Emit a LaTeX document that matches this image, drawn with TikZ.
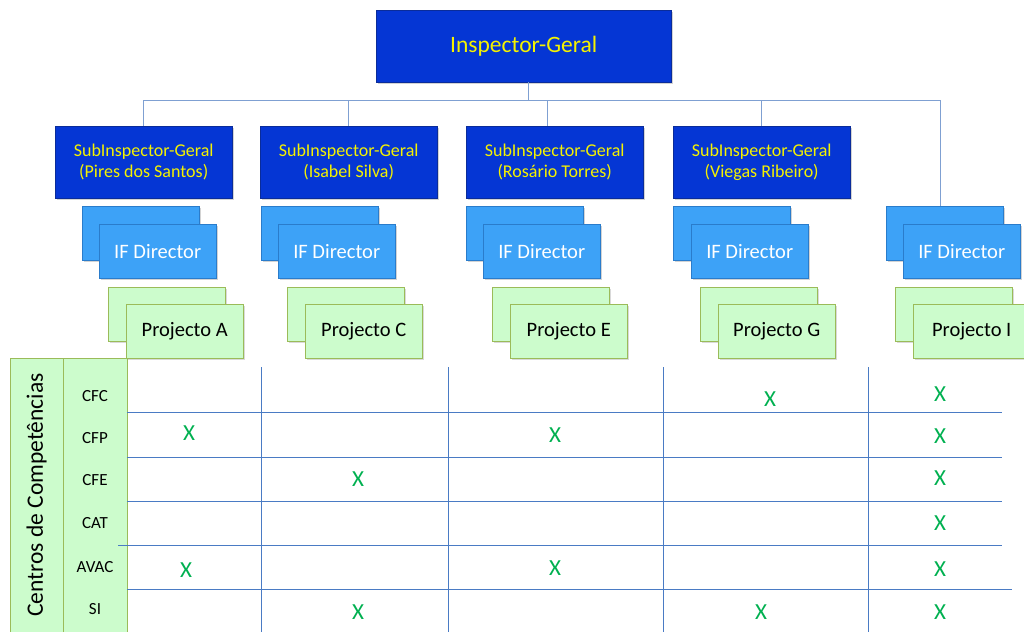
\documentclass[tikz,border=0pt]{standalone}
\usepackage{fontspec}
\setmainfont{Carlito}
\usetikzlibrary{positioning,shadows}

\definecolor{igblue}{HTML}{0536D4}
\definecolor{igborder}{HTML}{0A2C9A}
\definecolor{igyellow}{HTML}{F5F200}
\definecolor{ifblue}{HTML}{3DA2F7}
\definecolor{ifborder}{HTML}{2A7CCB}
\definecolor{pjgreen}{HTML}{CCFCCC}
\definecolor{pjborder}{HTML}{9BBB59}
\definecolor{busline}{HTML}{7FA0D2}
\definecolor{gridline}{HTML}{4A7BC4}
\definecolor{xgreen}{HTML}{00B050}

\tikzset{
  chief/.style={rectangle, draw=igborder, fill=igblue, text=igyellow, inner sep=0pt, align=center,
    drop shadow={shadow xshift=1.5pt, shadow yshift=-1.5pt, opacity=0.35}},
  director/.style={rectangle, draw=ifborder, fill=ifblue, text=white, inner sep=0pt,
    minimum width=117pt, minimum height=54pt, anchor=north west, font=\fontsize{20.5}{24}\selectfont,
    drop shadow={shadow xshift=1.5pt, shadow yshift=-1.5pt, opacity=0.35}},
  project/.style={rectangle, draw=pjborder, fill=pjgreen, inner sep=0pt,
    minimum width=117pt, minimum height=54pt, anchor=north west, font=\fontsize{20.5}{24}\selectfont,
    drop shadow={shadow xshift=1.5pt, shadow yshift=-1.5pt, opacity=0.3}},
  headbox/.style={rectangle, draw=pjborder, line width=0.8pt, fill=pjgreen, anchor=north west},
  orgline/.style={draw=busline, line width=1.2pt},
  gridrule/.style={draw=gridline, line width=1pt},
  rowlabel/.style={font=\fontsize{17}{20}\selectfont},
  tick/.style={text=xgreen, inner sep=0pt, font=\fontsize{23}{26}\selectfont},
}

\begin{document}
\begin{tikzpicture}[x=1pt,y=-1pt]
\useasboundingbox (0,0) rectangle (1024,631);

\node (ig) [chief, minimum width=295pt, minimum height=72pt, anchor=north west, font=\fontsize{23.5}{27}\selectfont] at (376,10) {Inspector-Geral};

\node (sub1) [chief, minimum width=177pt, minimum height=72pt, anchor=north west, font=\fontsize{18}{21}\selectfont] at (55,126) {SubInspector-Geral\\(Pires dos Santos)};
\node (sub2) [chief, minimum width=177pt, minimum height=72pt, anchor=north west, font=\fontsize{18}{21}\selectfont] at (260,126) {SubInspector-Geral\\(Isabel Silva)};
\node (sub3) [chief, minimum width=177pt, minimum height=72pt, anchor=north west, font=\fontsize{18}{21}\selectfont] at (466,126) {SubInspector-Geral\\(Rosário Torres)};
\node (sub4) [chief, minimum width=177pt, minimum height=72pt, anchor=north west, font=\fontsize{18}{21}\selectfont] at (673,126) {SubInspector-Geral\\(Viegas Ribeiro)};

% directors, two stacked boxes each
\node (dirb1) [director] at (82,206) {};
\node (dir1) [director] at (99,224) {IF Director};
\node (dirb2) [director] at (261,206) {};
\node (dir2) [director] at (278,224) {IF Director};
\node (dirb3) [director] at (466,206) {};
\node (dir3) [director] at (483,224) {IF Director};
\node (dirb4) [director] at (673,206) {};
\node (dir4) [director] at (691,224) {IF Director};
\node (dirb5) [director] at (886,206) {};
\node (dir5) [director] at (903,224) {IF Director};

% projects
\node (projb1) [project] at (108,287) {};
\node (proj1) [project] at (126,304) {Projecto A};
\node (projb2) [project] at (287,287) {};
\node (proj2) [project] at (305,304) {Projecto C};
\node (projb3) [project] at (492,287) {};
\node (proj3) [project] at (510,304) {Projecto E};
\node (projb4) [project] at (700,287) {};
\node (proj4) [project] at (718,304) {Projecto G};
\node (projb5) [project] at (895,287) {};
\node (proj5) [project] at (913,304) {Projecto I};

% org chart lines
\draw[orgline] ([xshift=5pt]ig.south) -- ++(0,18) coordinate (bus);
\draw[orgline] (sub1.north |- bus) -- ([xshift=-4pt]dirb5.north |- bus) -- ([xshift=-4pt]dirb5.north);
\draw[orgline] (sub1.north |- bus) -- (sub1.north);
\draw[orgline] (sub2.north |- bus) -- (sub2.north);
\draw[orgline] ([xshift=-7pt]sub3.north |- bus) -- ([xshift=-7pt]sub3.north);
\draw[orgline] (sub4.north |- bus) -- (sub4.north);

% competence table
\node (ccbox) [headbox, minimum width=53pt, minimum height=290pt] at (10,358) {};
\node (cclabel) [rotate=90, font=\fontsize{23.5}{26}\selectfont] at (36.5,495) {Centros de Competências};
\node (rowbox) [headbox, minimum width=64pt, minimum height=290pt] at (63,358) {};

\node (cfc) [rowlabel] at (95,396) {CFC};
\node (cfp) [rowlabel] at (95,438) {CFP};
\node (cfe) [rowlabel] at (95,480) {CFE};
\node (cat) [rowlabel] at (95,523) {CAT};
\node (avac) [rowlabel] at (95,567) {AVAC};
\node (si) [rowlabel] at (95,609) {SI};

\draw[gridrule] (127,412) -- (1002,412);
\draw[gridrule] (127,457) -- (1002,457);
\draw[gridrule] (127,501) -- (1002,501);
\draw[gridrule] (118,545) -- (1002,545);
\draw[gridrule] (127,589) -- (1012,589);
\draw[gridrule] (261,367) -- (261,640);
\draw[gridrule] (448,367) -- (448,640);
\draw[gridrule] (663,367) -- (663,640);
\draw[gridrule] (868,367) -- (868,640);

% marks
\node (x1) [tick] at (770,399) {X};
\node (x2) [tick] at (940,394) {X};
\node (x3) [tick] at (189,433) {X};
\node (x4) [tick] at (555,435) {X};
\node (x5) [tick] at (940,436) {X};
\node (x6) [tick] at (358,479) {X};
\node (x7) [tick] at (940,478) {X};
\node (x8) [tick] at (940,523) {X};
\node (x9) [tick] at (186,570) {X};
\node (x10) [tick] at (555,568) {X};
\node (x11) [tick] at (940,569) {X};
\node (x12) [tick] at (358,612) {X};
\node (x13) [tick] at (761,612) {X};
\node (x14) [tick] at (940,612) {X};
\end{tikzpicture}
\end{document}
